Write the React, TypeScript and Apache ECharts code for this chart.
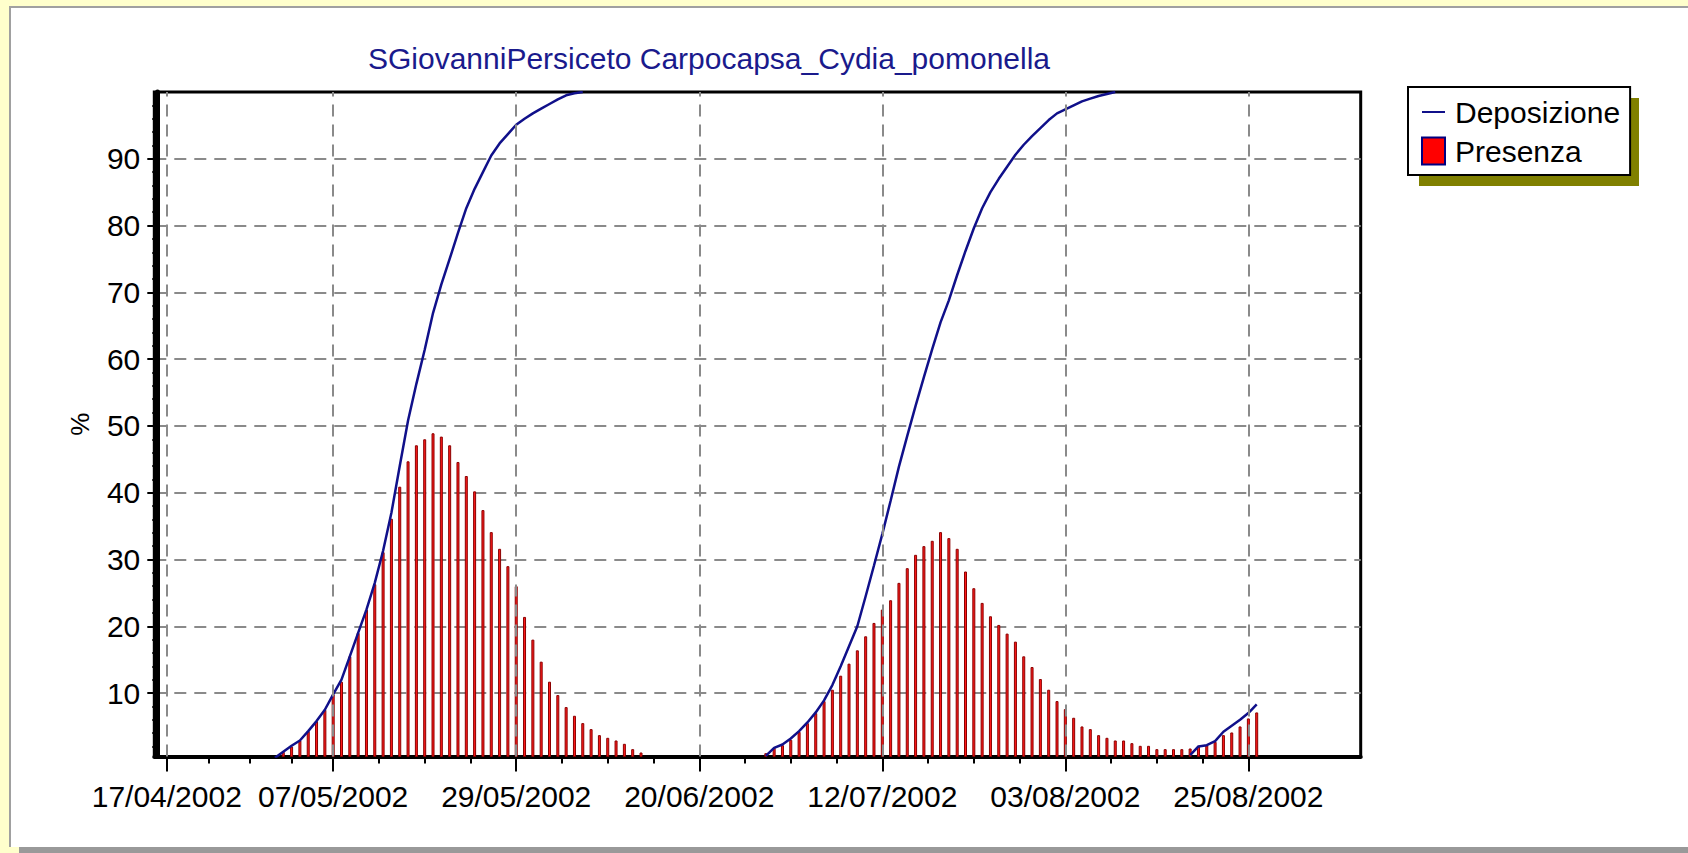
import React, { useEffect, useRef } from 'react';
import * as echarts from 'echarts';

const TITLE = 'SGiovanniPersiceto Carpocapsa_Cydia_pomonella';
const SERIES_NAMES = ['Deposizione', 'Presenza'];
const Y_NAME = '%';

// axis range (days) and labelled dates
const X_FIRST_DAY = '2002-04-16';
const X_LAST_DAY = '2002-09-07';
const TICK_DATES = ['2002-04-17', '2002-05-07', '2002-05-29', '2002-06-20', '2002-07-12', '2002-08-03', '2002-08-25'];
const Y_TICKS = [10, 20, 30, 40, 50, 60, 70, 80, 90];

// daily values, first value is on this date
const DATA_START = '2002-04-30';

const presenza = [
  0,
  1.2, 2.0, 2.9, 4.3, 5.8, 7.5, 9.8, 11.7, 15.5, 19.0,
  22.5, 26.3, 31.1, 36.1, 40.9, 44.7, 47.1, 48.0, 48.9, 48.4,
  47.1, 44.6, 42.5, 40.2, 37.4, 34.1, 31.6, 29.0, 26.0, 21.4,
  18.0, 14.7, 11.7, 9.7, 7.9, 6.6, 5.5, 4.6, 3.7, 3.3,
  2.9, 2.4, 1.6, 1.1,
  0, 0, 0, 0, 0, 0, 0, 0, 0, 0, 0, 0, 0, 0,
  1.0, 1.8, 2.2, 3.0, 4.2, 5.5, 7.0,
  8.8, 10.5, 12.6, 14.4, 16.4, 18.5, 20.5, 22.5, 23.9, 26.5,
  28.7, 30.7, 32.0, 32.8, 34.1, 33.2, 31.6, 28.2, 25.7, 23.5,
  21.5, 20.2, 18.9, 17.7, 15.5, 13.9, 12.1, 10.5, 8.8, 7.6,
  6.3, 5.0, 4.6, 3.7, 3.3, 2.9, 2.9, 2.5, 2.1, 2.1,
  1.6, 1.6, 1.6, 1.6, 1.7, 2.1, 2.2, 2.7, 3.7, 4.1,
  5.0, 6.2, 7.1,
];

const deposizione = [
  0.3,
  1.2, 2.1, 2.9, 4.3, 5.8, 7.5, 9.8, 12.0, 15.5, 19.0,
  22.5, 26.5, 31.3, 37.0, 44.0, 50.8, 56.3, 61.4, 66.9, 71.2,
  75.0, 78.9, 82.6, 85.5, 88.0, 90.5, 92.3, 93.7, 95.1, 96.0,
  96.8, 97.5, 98.2, 98.9, 99.5, 99.8, 100,
  null, null, null, null, null, null, null, null, null, null,
  null, null, null, null, null, null, null, null, null, null, null,
  0.6, 1.8, 2.3, 3.2, 4.3, 5.6, 7.1,
  8.9, 11.2, 14.0, 17.0, 20.0, 24.5, 29.1, 33.8, 38.8, 43.9,
  48.5, 53.0, 57.3, 61.5, 65.5, 68.8, 72.6, 76.2, 79.6, 82.6,
  85.0, 87.0, 88.8, 90.6, 92.1, 93.4, 94.6, 95.8, 96.8, 97.4,
  98.0, 98.6, 99.0, 99.4, 99.7, 100,
  null, null, null, null, null, null, null, null,
  0.7, 2.0, 2.2, 2.8, 4.2, 5.1, 6.0, 7.0, 8.3,
];

const FONT = '"Liberation Sans", Arial, Helvetica, sans-serif';
const DAY = 86400000;
const LINE_ICON = 'path://M0,0L0,0M0,12.5L23,12.5L23,14.5L0,14.5ZM23,27L23,27';

const utc = (s: string) => {
  const [y, m, d] = s.split('-').map(Number);
  return Date.UTC(y, m - 1, d);
};
const ORIGIN = utc(X_FIRST_DAY);
const dayIndex = (s: string) => Math.round((utc(s) - ORIGIN) / DAY);
const fmt = (idx: number) => {
  const d = new Date(ORIGIN + Math.round(idx) * DAY);
  const p = (n: number) => String(n).padStart(2, '0');
  return `${p(d.getUTCDate())}/${p(d.getUTCMonth() + 1)}/${d.getUTCFullYear()}`;
};

export default function App() {
  const ref = useRef<HTMLDivElement>(null);

  useEffect(() => {
    if (!ref.current) return;
    const chart = echarts.init(ref.current, null, { renderer: 'svg' });

    const xMin = -0.5;
    const xMax = dayIndex(X_LAST_DAY) + 0.5;
    const majors = TICK_DATES.map(dayIndex);
    const minors: number[] = [];
    for (let i = 0; i < majors.length - 1; i++) {
      const step = (majors[i + 1] - majors[i]) / 4;
      for (let k = 1; k < 4; k++) minors.push(majors[i] + k * step);
    }
    const s0 = dayIndex(DATA_START);
    const barData = presenza.map((v, i) => [s0 + i, v]);
    const lineData = deposizione.map((v, i) => [s0 + i, v]);

    const axisText = { fontSize: 30, color: '#000', fontFamily: FONT };

    chart.setOption({
      animation: false,
      backgroundColor: 'transparent',
      title: {
        text: TITLE,
        left: 709,
        top: 43,
        padding: 0,
        textAlign: 'center',
        textStyle: { fontSize: 30, fontWeight: 'normal', color: '#1a1a8c', fontFamily: FONT },
      },
      legend: {
        orient: 'vertical',
        left: 1408,
        top: 87,
        padding: [10, 10, 9, 13],
        itemWidth: 23,
        itemHeight: 27,
        itemGap: 9,
        backgroundColor: '#ffffff',
        borderColor: '#000000',
        borderWidth: 2,
        borderRadius: 0,
        selectedMode: false,
        textStyle: { fontSize: 30, color: '#000', fontFamily: FONT, padding: [0, 0, 0, 5] },
        data: [
          { name: SERIES_NAMES[0], icon: LINE_ICON, itemStyle: { color: '#10108a', borderWidth: 0 } },
          { name: SERIES_NAMES[1], icon: 'rect', itemStyle: { color: '#ff0000', borderColor: '#000080', borderWidth: 2 } },
        ],
      },
      graphic: [
        {
          type: 'rect',
          z: 3,
          silent: true,
          shape: { x: 1419, y: 98, width: 220, height: 88 },
          style: { fill: '#808000' },
        },
      ],
      grid: {
        left: 154.3,
        top: 92,
        right: 1688 - 1360.7,
        bottom: 853 - 756.5,
        containLabel: false,
        outerBoundsMode: 'none',
        show: true,
        borderColor: '#000',
        borderWidth: 3,
        backgroundColor: 'transparent',
      },
      xAxis: [
        {
          type: 'value',
          min: xMin,
          max: xMax,
          position: 'bottom',
          axisLine: { show: true, onZero: false, lineStyle: { color: '#000', width: 4 } },
          axisTick: { show: true, customValues: majors, length: 15, lineStyle: { color: '#000', width: 2 } },
          axisLabel: { show: true, customValues: majors, formatter: (v: number) => fmt(v), margin: 25, ...axisText },
          splitLine: { show: false },
          minorTick: { show: false },
        },
        {
          type: 'value',
          min: xMin,
          max: xMax,
          position: 'bottom',
          axisLine: { show: false },
          axisTick: { show: true, customValues: minors, length: 7, lineStyle: { color: '#000', width: 2 } },
          axisLabel: { show: false },
          splitLine: { show: false },
        },
      ],
      yAxis: {
        type: 'value',
        min: 0.5,
        max: 100,
        splitNumber: 10,
        minInterval: 10,
        maxInterval: 10,
        offset: -3,
        name: Y_NAME,
        nameLocation: 'middle',
        nameGap: 64,
        nameRotate: 90,
        nameTextStyle: { fontSize: 26, color: '#000', fontFamily: FONT },
        axisLine: { show: true, onZero: false, lineStyle: { color: '#000', width: 5 } },
        axisTick: { show: true, customValues: Y_TICKS, length: 10, lineStyle: { color: '#000', width: 2 } },
        minorTick: { show: true, splitNumber: 5, length: 5, lineStyle: { color: '#000', width: 2 } },
        axisLabel: { customValues: Y_TICKS, margin: 17, ...axisText },
        splitLine: { show: true, lineStyle: { color: '#8a8a8a', width: 2, type: [12, 8] } },
        minorSplitLine: { show: false },
      },
      series: [
        {
          type: 'line',
          name: 'vgrid',
          data: [],
          z: 1,
          silent: true,
          markLine: {
            silent: true,
            symbol: ['none', 'none'],
            label: { show: false },
            emphasis: { disabled: true },
            lineStyle: { color: '#8a8a8a', width: 2, type: [12, 8] },
            data: majors.map((v) => ({ xAxis: v })),
          },
        },
        {
          type: 'bar',
          name: SERIES_NAMES[1],
          data: barData,
          barWidth: 3,
          itemStyle: { color: '#ff1a1a', borderColor: '#8b0000', borderWidth: 1 },
          z: 2,
        },
        {
          type: 'line',
          name: SERIES_NAMES[0],
          data: lineData,
          showSymbol: false,
          symbol: 'none',
          connectNulls: false,
          color: '#10108a',
          lineStyle: { color: '#10108a', width: 2.5 },
          z: 3,
        },
      ],
    });

    return () => chart.dispose();
  }, []);

  return (
    <div style={{ position: 'fixed', left: 0, top: 0, width: 1688, height: 853, background: '#ffffcc', overflow: 'hidden' }}>
      <div
        style={{
          position: 'absolute',
          left: 9,
          top: 6,
          width: 1679,
          height: 841,
          boxSizing: 'border-box',
          background: '#ffffff',
          borderLeft: '2px solid #a0a0a0',
          borderTop: '2px solid #a0a0a0',
        }}
      />
      <div style={{ position: 'absolute', left: 19, top: 847, width: 1669, height: 6, background: '#999999' }} />
      <div ref={ref} style={{ position: 'absolute', left: 0, top: 0, width: 1688, height: 853 }} />
    </div>
  );
}
